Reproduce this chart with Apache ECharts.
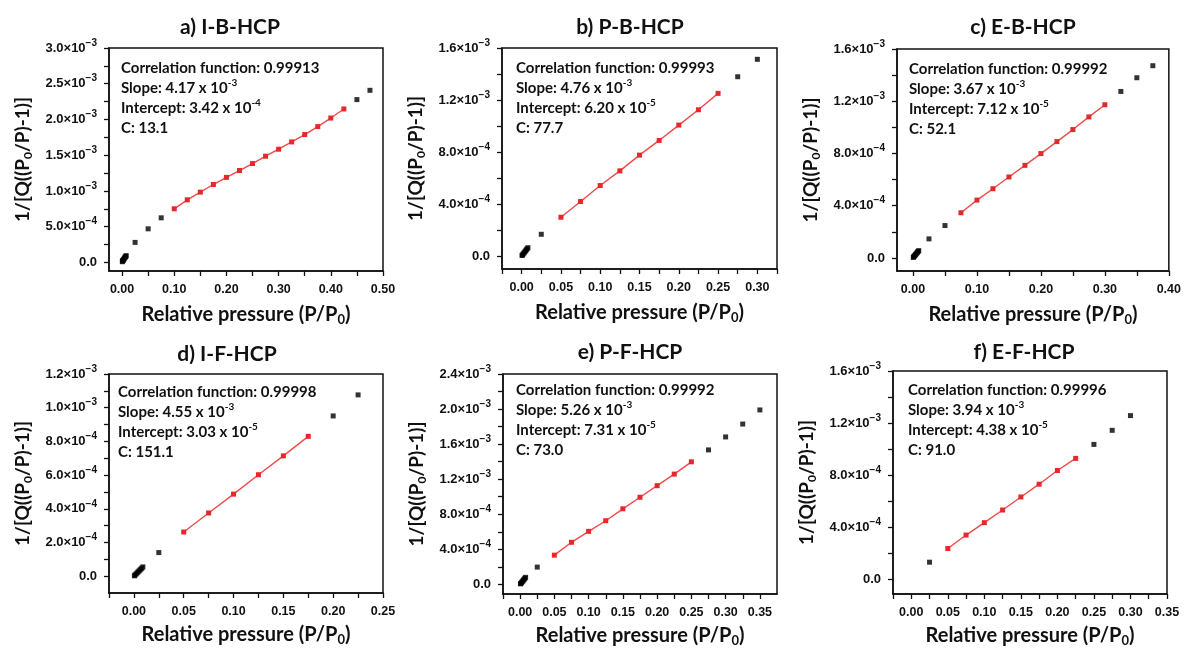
<!DOCTYPE html>
<html>
<head>
<meta charset="utf-8">
<script src="https://cdn.jsdelivr.net/npm/echarts@6/dist/echarts.min.js"></script>
<style>
  html, body { margin: 0; padding: 0; background: #fff; }
  #chart { width: 1184px; height: 648px; }
</style>
</head>
<body>
<div id="chart"></div>
<script>
// BET plots, six samples

// a) I-B-HCP
const aBlackX = [0.0005, 0.001, 0.0015, 0.002, 0.003, 0.004, 0.005, 0.006, 0.007, 0.008, 0.025, 0.05, 0.075, 0.45, 0.475];
const aBlackY = [1.0e-5, 2.0e-5, 2.5e-5, 3.0e-5, 4.2e-5, 5.2e-5, 6.3e-5, 7.4e-5, 8.5e-5, 9.5e-5, 2.8e-4, 4.7e-4, 6.24e-4, 2.278e-3, 2.408e-3];
const aRedX = [0.1, 0.125, 0.15, 0.175, 0.2, 0.225, 0.25, 0.275, 0.3, 0.325, 0.35, 0.375, 0.4, 0.425];
const aRedY = [7.5e-4, 8.76e-4, 9.83e-4, 1.09e-3, 1.19e-3, 1.286e-3, 1.383e-3, 1.486e-3, 1.584e-3, 1.686e-3, 1.789e-3, 1.90e-3, 2.02e-3, 2.147e-3];

// b) P-B-HCP
const bBlackX = [0.0005, 0.001, 0.002, 0.003, 0.004, 0.005, 0.006, 0.007, 0.008, 0.025, 0.275, 0.3];
const bBlackY = [4e-6, 8e-6, 1.6e-5, 2.4e-5, 3.2e-5, 4.0e-5, 4.8e-5, 5.6e-5, 6.4e-5, 1.67e-4, 1.379e-3, 1.513e-3];
const bRedX = [0.05, 0.075, 0.1, 0.125, 0.15, 0.175, 0.2, 0.225, 0.25];
const bRedY = [2.98e-4, 4.19e-4, 5.42e-4, 6.55e-4, 7.76e-4, 8.89e-4, 1.007e-3, 1.125e-3, 1.251e-3];

// c) E-B-HCP
const cBlackX = [0.0005, 0.001, 0.002, 0.003, 0.004, 0.005, 0.006, 0.007, 0.008, 0.009, 0.025, 0.05, 0.325, 0.35, 0.375];
const cBlackY = [4e-6, 8e-6, 1.4e-5, 2.0e-5, 2.6e-5, 3.2e-5, 3.8e-5, 4.4e-5, 5.0e-5, 5.6e-5, 1.46e-4, 2.48e-4, 1.275e-3, 1.38e-3, 1.472e-3];
const cRedX = [0.075, 0.1, 0.125, 0.15, 0.175, 0.2, 0.225, 0.25, 0.275, 0.3];
const cRedY = [3.46e-4, 4.43e-4, 5.30e-4, 6.20e-4, 7.09e-4, 7.99e-4, 8.91e-4, 9.83e-4, 1.08e-3, 1.173e-3];

// d) I-F-HCP
const dBlackX = [0.0005, 0.001, 0.002, 0.003, 0.004, 0.005, 0.006, 0.007, 0.008, 0.009, 0.025, 0.2, 0.225];
const dBlackY = [2e-6, 6e-6, 1.2e-5, 1.8e-5, 2.4e-5, 3.0e-5, 3.6e-5, 4.2e-5, 4.8e-5, 5.5e-5, 1.4e-4, 9.51e-4, 1.076e-3];
const dRedX = [0.05, 0.075, 0.1, 0.125, 0.15, 0.175];
const dRedY = [2.62e-4, 3.75e-4, 4.87e-4, 6.02e-4, 7.14e-4, 8.30e-4];

// e) P-F-HCP
const eBlackX = [0.0005, 0.001, 0.002, 0.003, 0.004, 0.005, 0.006, 0.007, 0.008, 0.025, 0.275, 0.3, 0.325, 0.35];
const eBlackY = [6e-6, 1.0e-5, 2.0e-5, 3.0e-5, 4.0e-5, 5.0e-5, 6.0e-5, 7.0e-5, 8.0e-5, 1.97e-4, 1.534e-3, 1.682e-3, 1.829e-3, 1.99e-3];
const eRedX = [0.05, 0.075, 0.1, 0.125, 0.15, 0.175, 0.2, 0.225, 0.25];
const eRedY = [3.33e-4, 4.80e-4, 6.05e-4, 7.26e-4, 8.62e-4, 9.94e-4, 1.126e-3, 1.258e-3, 1.398e-3];

// f) E-F-HCP
const fBlackX = [0.025, 0.25, 0.275, 0.3];
const fBlackY = [1.34e-4, 1.037e-3, 1.145e-3, 1.258e-3];
const fRedX = [0.05, 0.075, 0.1, 0.125, 0.15, 0.175, 0.2, 0.225];
const fRedY = [2.39e-4, 3.42e-4, 4.37e-4, 5.34e-4, 6.34e-4, 7.32e-4, 8.37e-4, 9.30e-4];

// tick labels
const xLabels10to50 = [0, 0.1, 0.2, 0.3, 0.4, 0.5];
const xLabels10to40 = [0, 0.1, 0.2, 0.3, 0.4];
const xLabels05to30 = [0, 0.05, 0.1, 0.15, 0.2, 0.25, 0.3];
const xLabels05to25 = [0, 0.05, 0.1, 0.15, 0.2, 0.25];
const xLabels05to35 = [0, 0.05, 0.1, 0.15, 0.2, 0.25, 0.3, 0.35];
const xTicks05to50 = [0, 0.05, 0.1, 0.15, 0.2, 0.25, 0.3, 0.35, 0.4, 0.45, 0.5];
const xTicks05to40 = [0, 0.05, 0.1, 0.15, 0.2, 0.25, 0.3, 0.35, 0.4];
const xTicks025to35 = [-0.025, 0, 0.025, 0.05, 0.075, 0.1, 0.125, 0.15, 0.175, 0.2, 0.225, 0.25, 0.275, 0.3, 0.325, 0.35];

const yLabelsA = [0, 5e-4, 1e-3, 1.5e-3, 2e-3, 2.5e-3, 3e-3];
const yTicksA = [0, 2.5e-4, 5e-4, 7.5e-4, 1e-3, 1.25e-3, 1.5e-3, 1.75e-3, 2e-3, 2.25e-3, 2.5e-3, 2.75e-3, 3e-3];
const yLabels16 = [0, 4e-4, 8e-4, 1.2e-3, 1.6e-3];
const yLabels24 = [0, 4e-4, 8e-4, 1.2e-3, 1.6e-3, 2e-3, 2.4e-3];
const yTicks02 = [0, 2e-4, 4e-4, 6e-4, 8e-4, 1e-3, 1.2e-3, 1.4e-3, 1.6e-3, 1.8e-3, 2e-3, 2.2e-3, 2.4e-3];
const yLabels12 = [0, 2e-4, 4e-4, 6e-4, 8e-4, 1e-3, 1.2e-3];
const yTicks01 = [0, 1e-4, 2e-4, 3e-4, 4e-4, 5e-4, 6e-4, 7e-4, 8e-4, 9e-4, 1e-3, 1.1e-3, 1.2e-3];

const titles = ['a) I-B-HCP', 'b) P-B-HCP', 'c) E-B-HCP', 'd) I-F-HCP', 'e) P-F-HCP', 'f) E-F-HCP'];
const corr = ['0.99913', '0.99993', '0.99992', '0.99998', '0.99992', '0.99996'];
const slopes = [['4.17', '-3'], ['4.76', '-3'], ['3.67', '-3'], ['4.55', '-3'], ['5.26', '-3'], ['3.94', '-3']];
const intercepts = [['3.42', '-4'], ['6.20', '-5'], ['7.12', '-5'], ['3.03', '-5'], ['7.31', '-5'], ['4.38', '-5']];
const cValues = ['13.1', '77.7', '52.1', '151.1', '73.0', '91.0'];

const panels = [
  { bx: aBlackX, by: aBlackY, rx: aRedX, ry: aRedY, xl: xLabels10to50, xt: xTicks05to50, yl: yLabelsA, yt: yTicksA,
    xr: [-0.025, 0.5], yr: [-1.2e-4, 3e-3], g: [109, 48, 274, 223], tx: 230, ty: 27, ax: 12, ay: 20 },
  { bx: bBlackX, by: bBlackY, rx: bRedX, ry: bRedY, xl: xLabels05to30, xt: xTicks025to35, yl: yLabels16, yt: yTicks02,
    xr: [-0.025, 0.325], yr: [-1e-4, 1.6e-3], g: [502, 48, 275, 221], tx: 630, ty: 27, ax: 14, ay: 20 },
  { bx: cBlackX, by: cBlackY, rx: cRedX, ry: cRedY, xl: xLabels10to40, xt: xTicks05to40, yl: yLabels16, yt: yTicks02,
    xr: [-0.025, 0.4], yr: [-1e-4, 1.6e-3], g: [897, 49, 274, 222], tx: 1023, ty: 27, ax: 12, ay: 20 },
  { bx: dBlackX, by: dBlackY, rx: dRedX, ry: dRedY, xl: xLabels05to25, xt: xTicks025to35, yl: yLabels12, yt: yTicks01,
    xr: [-0.025, 0.25], yr: [-1e-4, 1.2e-3], g: [109, 374, 274, 219], tx: 227, ty: 354, ax: 9, ay: 18 },
  { bx: eBlackX, by: eBlackY, rx: eRedX, ry: eRedY, xl: xLabels05to35, xt: xTicks025to35, yl: yLabels24, yt: yTicks02,
    xr: [-0.025, 0.375], yr: [-1.1e-4, 2.4e-3], g: [503, 374, 274, 221], tx: 630, ty: 352, ax: 13, ay: 16 },
  { bx: fBlackX, by: fBlackY, rx: fRedX, ry: fRedY, xl: xLabels05to35, xt: xTicks025to35, yl: yLabels16, yt: yTicks02,
    xr: [-0.025, 0.35], yr: [-1.1e-4, 1.6e-3], g: [893, 371, 274, 223], tx: 1024, ty: 352, ax: 15, ay: 19 }
];

const ink = '#111';
const tickFont = 'Liberation Sans';
const textFont = 'Lato';

function expLabel(v) {
  if (v === 0) return '0.0';
  const e = Math.floor(Math.log10(v) + 1e-9);
  const m = (v / Math.pow(10, e)).toFixed(1);
  return m + '×10{s|−' + (-e) + '}';
}

const grids = [], xAxes = [], yAxes = [], series = [], graphics = [];

panels.forEach(function (p, i) {
  grids.push({
    left: p.g[0], top: p.g[1], width: p.g[2], height: p.g[3],
    show: true, borderColor: ink, borderWidth: 1.5, backgroundColor: 'transparent'
  });
  xAxes.push({
    type: 'value', gridIndex: i, min: p.xr[0], max: p.xr[1],
    name: 'Relative pressure (P/P{sub|0})', nameLocation: 'middle', nameGap: i < 3 ? 32 : 30,
    nameTextStyle: {
      fontFamily: textFont, fontWeight: 'bold', fontSize: 20, color: ink,
      rich: { sub: { fontFamily: textFont, fontWeight: 'bold', fontSize: 13, color: ink, padding: [10, 0, 0, 0] } }
    },
    axisLine: { show: true, onZero: false, lineStyle: { color: ink, width: 1.5 } },
    axisTick: { show: true, length: 5, lineStyle: { color: ink, width: 1.3 }, customValues: p.xt },
    axisLabel: {
      customValues: p.xl, margin: 12, fontFamily: tickFont, fontWeight: 'bold', fontSize: 12.5, color: ink,
      formatter: function (v) { return v.toFixed(2); }
    },
    splitLine: { show: false }
  });
  yAxes.push({
    type: 'value', gridIndex: i, min: p.yr[0], max: p.yr[1],
    name: '1/[Q((P{sub|0}/P)-1)]', nameLocation: 'middle', nameGap: 75,
    nameTextStyle: {
      fontFamily: textFont, fontWeight: 'bold', fontSize: 19, color: ink,
      rich: { sub: { fontFamily: textFont, fontWeight: 'bold', fontSize: 12, color: ink, padding: [10, 0, 0, 0] } }
    },
    axisLine: { show: true, onZero: false, lineStyle: { color: ink, width: 1.5 } },
    axisTick: { show: true, length: 5, lineStyle: { color: ink, width: 1.3 }, customValues: p.yt },
    axisLabel: {
      customValues: p.yl, margin: 12, fontFamily: tickFont, fontWeight: 'bold', fontSize: 13, color: ink,
      formatter: expLabel,
      rich: { s: { fontFamily: tickFont, fontWeight: 'bold', fontSize: 10, color: ink, padding: [0, 0, 10, 0] } }
    },
    splitLine: { show: false }
  });
  series.push({
    type: 'scatter', xAxisIndex: i, yAxisIndex: i, symbol: 'rect', symbolSize: 5,
    itemStyle: { color: '#000' },
    data: p.bx.map(function (x, k) { return [x, p.by[k]]; })
  });
  series.push({
    type: 'line', xAxisIndex: i, yAxisIndex: i, symbol: 'rect', symbolSize: 5, z: 3,
    itemStyle: { color: '#e8272d' },
    lineStyle: { color: '#f04a4a', width: 1.4 },
    data: p.rx.map(function (x, k) { return [x, p.ry[k]]; })
  });

  graphics.push({
    type: 'text', x: p.tx, y: p.ty,
    style: { text: titles[i], fill: ink, font: 'bold 21px ' + textFont, align: 'center', verticalAlign: 'middle' }
  });
  const base = { fontFamily: textFont, fontWeight: 'bold', fontSize: 15, fill: ink, lineHeight: 20 };
  const sup = { fontFamily: textFont, fontWeight: 'bold', fontSize: 10, fill: ink, lineHeight: 20, padding: [0, 0, 10, 0] };
  graphics.push({
    type: 'text', x: p.g[0] + p.ax, y: p.g[1] + p.ay - 10,
    style: {
      text: '{b|Correlation function: ' + corr[i] + '}\n' +
            '{b|Slope: ' + slopes[i][0] + ' x 10}{s|' + slopes[i][1] + '}\n' +
            '{b|Intercept: ' + intercepts[i][0] + ' x 10}{s|' + intercepts[i][1] + '}\n' +
            '{b|C: ' + cValues[i] + '}',
      rich: { b: base, s: sup },
      align: 'left', verticalAlign: 'top'
    }
  });
});

const chart = echarts.init(document.getElementById('chart'));
chart.setOption({
  backgroundColor: '#fff',
  animation: false,
  grid: grids,
  xAxis: xAxes,
  yAxis: yAxes,
  series: series,
  graphic: graphics
});
</script>
</body>
</html>
